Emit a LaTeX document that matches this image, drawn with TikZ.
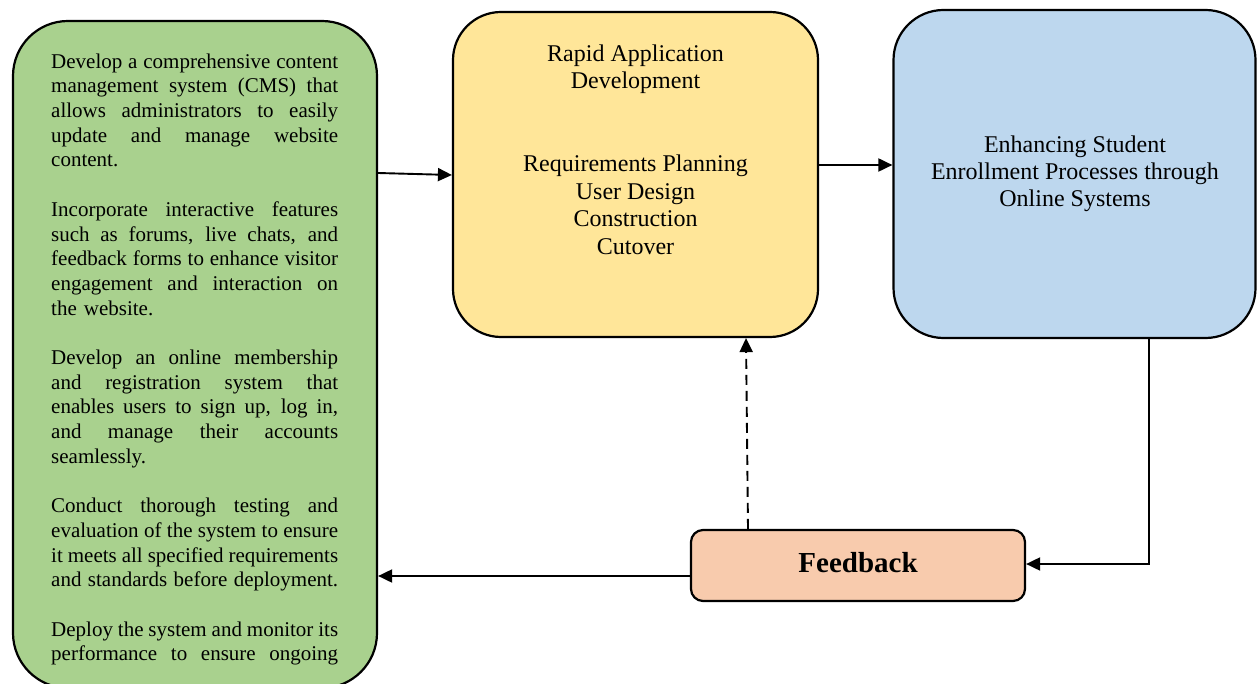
\documentclass[tikz,border=0pt]{standalone}
\usepackage{fontspec}
\setmainfont{Liberation Serif}
\usetikzlibrary{arrows.meta}
\definecolor{gfill}{HTML}{A9D18E}
\definecolor{yfill}{HTML}{FFE699}
\definecolor{bfill}{HTML}{BDD7EE}
\definecolor{ofill}{HTML}{F8CBAD}
\newcommand{\jl}[1]{\leavevmode\hbox to 287pt{\spaceskip=0.25em plus 1fil minus 0.12em\relax #1}}
\tikzset{
  box/.style={draw=black, line width=2.2pt, rectangle, inner sep=0pt},
  conn/.style={line width=1.9pt, -{Triangle[length=14pt,width=13pt]}},
  txt/.style={inner sep=0pt, text=black}
}
\begin{document}
\begin{tikzpicture}[x=1pt,y=-1pt]
\useasboundingbox (0,0) rectangle (1257,684);
% boxes
\node[box, fill=gfill, rounded corners=55pt, minimum width=364pt, minimum height=667pt] (green) at (195,354.5) {};
\node[box, fill=yfill, rounded corners=48pt, minimum width=365pt, minimum height=325pt] (yellow) at (635.5,174.5) {};
\node[box, fill=bfill, rounded corners=50pt, minimum width=362pt, minimum height=328pt] (blue) at (1074.5,174) {};
\node[box, fill=ofill, rounded corners=12pt, minimum width=334pt, minimum height=71pt] (feedback) at (858,565.5) {};
% texts
\node[txt, anchor=north west, text width=287pt, align=left, font=\fontsize{21}{24.7}\selectfont] (gtext) at (51,53) {%
\rule{0pt}{15pt}\jl{Develop a comprehensive content}\\
\jl{management system (CMS) that}\\
\jl{allows administrators to easily}\\
\jl{update and manage website}\\
content.\\[24.7pt]
\jl{Incorporate interactive features}\\
\jl{such as forums, live chats, and}\\
\jl{feedback forms to enhance visitor}\\
\jl{engagement and interaction on}\\
the website.\\[24.7pt]
\jl{Develop an online membership}\\
\jl{and registration system that}\\
\jl{enables users to sign up, log in,}\\
\jl{and manage their accounts}\\
seamlessly.\\[24.7pt]
\jl{Conduct thorough testing and}\\
\jl{evaluation of the system to ensure}\\
\jl{it meets all specified requirements}\\
\jl{and standards before deployment.}\\[24.7pt]
\jl{Deploy the system and monitor its}\\
\jl{performance to ensure ongoing}};
\node[txt, anchor=north, align=center, font=\fontsize{24}{27.6}\selectfont] (ytext) at (635.5,44) {%
\rule{0pt}{17pt}Rapid Application\\
Development\\[55.2pt]
Requirements Planning\\
User Design\\
Construction\\
Cutover};
\node[txt, anchor=north, align=center, font=\fontsize{24}{27}\selectfont] (btext) at (1075,135) {%
\rule{0pt}{17pt}Enhancing Student\\
Enrollment Processes through\\
Online Systems};
\node[txt, anchor=base, font=\bfseries\fontsize{29}{34}\selectfont] (ftext) at (858,572) {Feedback};
% connectors
\draw[conn] (green.east |- 0,173) -- (yellow.west |- 0,175);
\draw[conn] (yellow.east |- 0,165) -- (blue.west |- 0,165);
\draw[conn] (blue.south -| 1149,0) |- (feedback.east |- 0,564);
\draw[conn] (feedback.west |- 0,576) -- (green.east |- 0,576);
\draw[conn, dash pattern=on 10pt off 6pt] (feedback.north -| 748,0) -- (yellow.south -| 746,0);
\end{tikzpicture}
\end{document}
